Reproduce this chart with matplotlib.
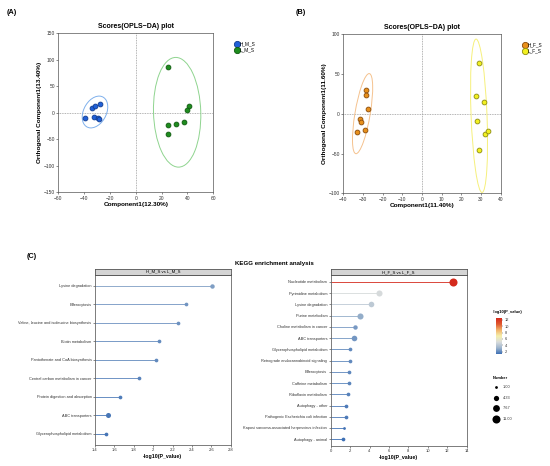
import matplotlib
matplotlib.use('Agg')
import matplotlib.pyplot as plt
import numpy as np
from matplotlib.patches import Ellipse
from matplotlib.colors import LinearSegmentedColormap, Normalize
from matplotlib.cm import ScalarMappable

plt.rcParams['font.family'] = ['Liberation Sans', 'DejaVu Sans']

# ---- panel A data (OPLS-DA scores, male) ----
hms_x = [-39.2, -33.8, -31.3, -27.9, -32.6, -29.5, -28.5]
hms_y = [-9.5, 10.0, 12.0, 17.0, -7.6, -9.0, -12.5]
lms_x = [24.8, 41.5, 39.7, 37.2, 31.3, 25.1, 24.6]
lms_y = [87.0, 12.6, 5.7, -18.3, -22.0, -23.3, -39.7]
# ellipse: center x, center y, width, height, angle
hms_ell = [-31.6, 1.5, 60.4, 18.6, 83.3]
lms_ell = [32.0, 1.0, 207.0, 36.6, 90.6]

# ---- panel B data (OPLS-DA scores, female) ----
hfs_x = [-28.7, -28.4, -27.2, -31.3, -30.8, -32.9, -29.0]
hfs_y = [30.4, 23.2, 5.5, -6.3, -9.7, -22.4, -20.7]
lfs_x = [28.9, 27.7, 31.5, 28.0, 31.8, 33.3, 28.9]
lfs_y = [64.0, 22.8, 15.2, -9.3, -24.9, -21.9, -45.6]
hfs_ell = [-30.2, 0.2, 101.0, 7.8, 86.2]
lfs_ell = [29.0, -2.5, 193.0, 8.1, 90.9]

# ---- panel C data (KEGG enrichment) ----
male_paths = ['Lysine degradation', 'Efferocytosis',
              'Valine, leucine and isoleucine biosynthesis', 'Biotin metabolism',
              'Pantothenate and CoA biosynthesis', 'Central carbon metabolism in cancer',
              'Protein digestion and absorption', 'ABC transporters',
              'Glycerophospholipid metabolism']
male_p = [2.61, 2.34, 2.26, 2.06, 2.03, 1.85, 1.66, 1.53, 1.51]
male_n = [3, 2, 2, 2, 2, 2, 2, 4, 2]

female_paths = ['Nucleotide metabolism', 'Pyrimidine metabolism', 'Lysine degradation',
                'Purine metabolism', 'Choline metabolism in cancer', 'ABC transporters',
                'Glycerophospholipid metabolism', 'Retrograde endocannabinoid signaling',
                'Efferocytosis', 'Caffeine metabolism', 'Riboflavin metabolism',
                'Autophagy - other', 'Pathogenic Escherichia coli infection',
                'Kaposi sarcoma-associated herpesvirus infection', 'Autophagy - animal']
female_p = [12.56, 4.98, 4.19, 2.99, 2.47, 2.37, 2.02, 2.02, 1.92, 1.89, 1.82,
            1.61, 1.61, 1.41, 1.30]
female_n = [11, 6, 5, 6, 3, 5, 2, 2, 2, 2, 2, 2, 2, 1, 2]

size_levels = [1.00, 4.33, 7.67, 11.00]
cbar_ticks = [2, 4, 6, 8, 10, 12]

W, H = 550, 466
fig = plt.figure(figsize=(5.5, 4.66), dpi=100)


def box(l, t, r, b):
    return [l / W, 1 - b / H, (r - l) / W, (b - t) / H]


def size_of(n):
    d = 2.0 + 3.8 * (np.sqrt(n) - 1) / (np.sqrt(11) - 1)
    return d ** 2


def score_plot(rect, g1, g2, e1, e2, cols, ecols, xlim, ylim, xt, yt, xlab, ylab, labels, leg_xy):
    ax = fig.add_axes(rect)
    ax.axhline(0, color='#9a9a9a', lw=0.6, ls=(0, (1, 1)), zorder=1)
    ax.axvline(0, color='#9a9a9a', lw=0.6, ls=(0, (1, 1)), zorder=1)
    for e, ec in zip([e1, e2], ecols):
        ax.add_patch(Ellipse((e[0], e[1]), e[2], e[3], angle=e[4], fill=False,
                             ec=ec, lw=0.7, zorder=2))
    for (gx, gy), (fc, edc), lab in zip([g1, g2], cols, labels):
        ax.scatter(gx, gy, s=12, c=fc, edgecolors=edc, linewidths=0.6, zorder=3, label=lab)
    ax.set_xlim(xlim)
    ax.set_ylim(ylim)
    ax.set_xticks(xt)
    ax.set_yticks(yt)
    ax.tick_params(labelsize=3.5, length=1.5, width=0.4, pad=1, colors='#333333')
    for sp in ax.spines.values():
        sp.set_linewidth(0.5)
        sp.set_color('#555555')
    ax.set_xlabel(xlab, fontsize=4.6, fontweight='bold', labelpad=1)
    ax.set_ylabel(ylab, fontsize=4.6, fontweight='bold', labelpad=1)
    ax.set_title('Scores(OPLS\u2212DA) plot', fontsize=5.0, fontweight='bold', pad=4)
    ax.legend(loc='upper left', bbox_to_anchor=leg_xy, bbox_transform=fig.transFigure,
              frameon=False, fontsize=3.4, markerscale=1.3, handletextpad=0.1,
              labelspacing=0.2, borderpad=0, handlelength=1)
    return ax


score_plot(box(58.3, 33.3, 213.3, 192.3), (hms_x, hms_y), (lms_x, lms_y), hms_ell, lms_ell,
           [('#2060d8', '#103c90'), ('#1e8c1e', '#0e5a0e')], ['#7fb0ec', '#8fd48f'],
           (-60, 60), (-150, 150), np.arange(-60, 61, 20), np.arange(-150, 151, 50),
           'Component1(12.30%)', 'Orthogonal Component1(13.40%)', ['H_M_S', 'L_M_S'],
           (232 / W, 1 - 39 / H))

score_plot(box(343.3, 34.3, 500.7, 193.3), (hfs_x, hfs_y), (lfs_x, lfs_y), hfs_ell, lfs_ell,
           [('#e8901c', '#8a4a08'), ('#f2f020', '#8c8c10')], ['#f5c28e', '#f6f07c'],
           (-40, 40), (-100, 100), np.arange(-40, 41, 10), np.arange(-100, 101, 50),
           'Component1(11.40%)', 'Orthogonal Component1(11.60%)', ['H_F_S', 'L_F_S'],
           (520 / W, 1 - 40 / H))

fig.text(7 / W, 1 - 13 / H, '(A)', fontsize=5.2, fontweight='bold', va='center')
fig.text(296 / W, 1 - 13 / H, '(B)', fontsize=5.2, fontweight='bold', va='center')
fig.text(27 / W, 1 - 256 / H, '(C)', fontsize=5.2, fontweight='bold', va='center')
fig.text(274 / W, 1 - 263 / H, 'KEGG enrichment analysis', fontsize=4.4,
         fontweight='bold', ha='center', va='center')

# colour scale shared by both facets
cmap = LinearSegmentedColormap.from_list(
    'kegg', ['#3d6fb4', '#9db4cc', '#d9dcdc', '#f4eeaa', '#f2b36a', '#e0582e', '#d42a1c'])
all_p = male_p + female_p
norm = Normalize(vmin=min(all_p), vmax=max(all_p))


def lollipop(rect, paths, pv, nv, xlim, xt, xtl, strip):
    ax = fig.add_axes(rect)
    y = np.arange(len(paths))
    for yi, p, n in zip(y, pv, nv):
        c = cmap(norm(p))
        ax.plot([0, p], [yi, yi], color=c, lw=0.6, zorder=1)
        ax.scatter([p], [yi], s=size_of(n), color=c, zorder=2, linewidths=0)
    ax.set_xlim(xlim)
    ax.set_ylim(len(paths) - 0.4, -0.6)
    ax.set_yticks(y)
    ax.set_yticklabels(paths)
    ax.set_xticks(xt)
    ax.set_xticklabels(xtl)
    ax.tick_params(labelsize=2.8, length=1.5, width=0.4, pad=1, colors='#333333')
    ax.tick_params(axis='x', labelsize=3.0)
    for sp in ax.spines.values():
        sp.set_linewidth(0.6)
        sp.set_color('#666666')
    ax.set_xlabel('-log10(P_value)', fontsize=3.8, fontweight='bold', labelpad=1)
    pos = ax.get_position()
    sax = fig.add_axes([pos.x0, pos.y1, pos.width, 6 / H])
    sax.set_facecolor('#d4d4d4')
    sax.set_xticks([])
    sax.set_yticks([])
    for sp in sax.spines.values():
        sp.set_linewidth(0.6)
        sp.set_color('#555555')
    sax.text(0.5, 0.5, strip, fontsize=3.1, ha='center', va='center', transform=sax.transAxes)
    return ax


lollipop(box(95, 274.5, 230.7, 445), male_paths, male_p, male_n, (1.4, 2.8),
         np.arange(1.4, 2.81, 0.2), ['1.4', '1.6', '1.8', '2', '2.2', '2.4', '2.6', '2.8'],
         'H_M_S vs L_M_S')
lollipop(box(330.7, 275, 466.7, 446), female_paths, female_p, female_n, (0, 14),
         np.arange(0, 15, 2), [str(v) for v in range(0, 15, 2)], 'H_F_S vs L_F_S')

# colour bar
cax = fig.add_axes(box(496, 318, 502, 354))
cb = fig.colorbar(ScalarMappable(norm=norm, cmap=cmap), cax=cax, ticks=cbar_ticks)
cb.outline.set_visible(False)
cb.ax.tick_params(labelsize=2.8, length=1, width=0.3, pad=1, colors='#333333')
fig.text(493 / W, 1 - 312 / H, '-log10(P_value)', fontsize=2.9, fontweight='bold', va='center')

# size legend
fig.text(493 / W, 1 - 378 / H, 'Number', fontsize=2.9, fontweight='bold', va='center')
lax = fig.add_axes(box(490, 382, 530, 424))
lax.set_xlim(0, 1)
lax.set_ylim(len(size_levels) - 0.5, -0.5)
lax.axis('off')
for i, n in enumerate(size_levels):
    lax.scatter([0.15], [i], s=size_of(n), color='black', linewidths=0)
    lax.text(0.32, i, '%.2f' % n, fontsize=2.8, va='center', color='#333333')

fig.savefig('out.png', dpi=100)
